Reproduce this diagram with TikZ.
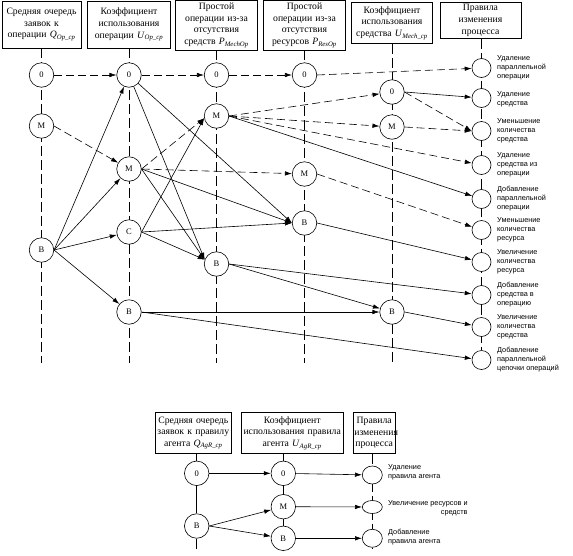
\documentclass[tikz,border=0pt]{standalone}
\usepackage{fontspec}
\setmainfont{Liberation Serif}
\newfontfamily\lblfont{Liberation Sans}
\usetikzlibrary{arrows.meta,shapes.geometric}
\pgfdeclarelayer{bg}
\pgfsetlayers{bg,main}
\newcommand{\myvar}[2]{\textit{#1}\textsubscript{\textit{#2}}}
\begin{document}
\begin{tikzpicture}[x=1pt,y=-1pt,
  st/.style={circle,draw,line width=0.6pt,fill=white,minimum size=24.5pt,inner sep=0pt,font=\fontsize{8.5}{8.5}\selectfont},
  rc/.style={circle,draw,line width=0.6pt,fill=white,minimum size=19pt,inner sep=0pt},
  re/.style={ellipse,draw,line width=0.6pt,fill=white,inner sep=0pt},
  hdr/.style={draw,line width=0.8pt,fill=white,align=center,inner xsep=1pt,inner ysep=0pt,font=\fontsize{9.7}{11.7}\selectfont},
  lbl/.style={anchor=west,align=left,inner sep=0pt,font=\lblfont\fontsize{7.3}{9}\selectfont},
  colline/.style={line width=0.6pt,dash pattern=on 10pt off 4pt},
  solidcol/.style={line width=0.6pt},
  ed/.style={line width=0.6pt,-{Latex[length=7pt,width=4.5pt]}},
  ded/.style={ed,dash pattern=on 8pt off 4pt},
]
\useasboundingbox (0,0) rectangle (573,555);

% ---------- top header boxes
\node[hdr,text width=77pt,minimum height=47pt] (h1) at (41.5,24.5) {Средняя очередь\\заявок к\\операции \myvar{Q}{Op\_cp}};
\node[hdr,text width=81pt,minimum height=47pt] (h2) at (129,24.5) {Коэффициент\\использования\\операции \myvar{U}{Op\_cp}};
\node[hdr,text width=80pt,minimum height=49.5pt] (h3) at (216.5,25.2) {Простой\\операции из-за\\отсутствия\\средств \myvar{P}{MechOp}};
\node[hdr,text width=80pt,minimum height=49.5pt] (h4) at (304.5,25.2) {Простой\\операции из-за\\отсутствия\\ресурсов \myvar{P}{ResOp}};
\node[hdr,text width=79pt,minimum height=41pt] (h5) at (392,23) {Коэффициент\\использования\\средства \myvar{U}{Mech\_cp}};
\node[hdr,text width=79pt,minimum height=36pt] (h6) at (480.5,20.5) {Правила\\изменения\\процесса};

\coordinate (bot) at (0,363);

% ---------- state nodes
\node[st] (a0) at (41.5,75) {0};
\node[st] (aM) at (41.5,126) {М};
\node[st] (aB) at (41.5,250) {В};
\node[st] (b0) at (129,75) {0};
\node[st] (bM) at (129,169) {М};
\node[st] (bC) at (129,232) {С};
\node[st] (bB) at (129,312) {В};
\node[st] (c0) at (216.5,75) {0};
\node[st] (cM) at (216.5,116) {М};
\node[st] (cB) at (216.5,264) {В};
\node[st] (d0) at (304.5,75) {0};
\node[st] (dM) at (304.5,174) {М};
\node[st] (dB) at (304.5,223) {В};
\node[st] (e0) at (392,92) {0};
\node[st] (eM) at (392,127) {М};
\node[st] (eB) at (392,312) {В};

% ---------- rule circles
\foreach \n/\y in {1/68,2/98,3/131,4/165,5/199,6/230,7/262,8/295,9/327,10/360}
  \node[rc] (r\n) at (481.5,\y) {};

\node[lbl] (l1) at (497,68) {Удаление\\параллельной\\операции};
\node[lbl] (l2) at (497,99.5) {Удаление\\средства};
\node[lbl] (l3) at (497,131) {Уменьшение\\количества\\средства};
\node[lbl] (l4) at (497,165) {Удаление\\средства из\\операции};
\node[lbl] (l5) at (497,199) {Добавление\\параллельной\\операции};
\node[lbl] (l6) at (497,230) {Уменьшение\\количества\\ресурса};
\node[lbl] (l7) at (497,262) {Увеличение\\количества\\ресурса};
\node[lbl] (l8) at (497,295) {Добавление\\средства в\\операцию};
\node[lbl] (l9) at (497,327) {Увеличение\\количества\\средства};
\node[lbl] (l10) at (497,360) {Добавление\\параллельной\\цепочки операций};

% ---------- column lines
\begin{pgfonlayer}{bg}
\foreach \h in {h1,h2,h3,h4,h5}
  \draw[colline] (\h.south) -- (\h.south |- bot);
\draw[colline] (h6.south -| r1) -- (r10);
\end{pgfonlayer}

% ---------- connectors
\draw[ded] (a0.east) -- (b0);
\draw[ded] (b0.east) -- (c0);
\draw[ded] (c0.east) -- (d0);
\draw[ded] (d0.east) -- (r1);
\draw[ded] (aM.east) -- (bM);
\draw[ded] (bM.east) -- (cM.190);
\draw[ded] (bM.east) -- (dM);
\draw[ded] (cM.east) -- (e0);
\draw[ded] (cM.east) -- (eM);
\draw[ded] (cM.east) -- (r4);
\draw[ed]  (cM.east) -- (r5);
\draw[ded] (dM.east) -- (r6);
\draw[ed]  (e0.east) -- (r2);
\draw[ded] (e0.east) -- (r3.west);
\draw[ded] (eM.east) -- (r3.west);
\draw[ed] (aB.east) -- (b0);
\draw[ed] (aB.east) -- (bM);
\draw[ed] (aB.east) -- (bC);
\draw[ed] (aB.east) -- (bB);
\draw[ed] (b0) -- (cB.160);
\draw[ed] (b0) -- (dB.west);
\draw[ed] (bM.east) -- (cB.160);
\draw[ed] (bM.east) -- (dB.west);
\draw[ed] (bC.east) -- (cM.190);
\draw[ed] (bC.east) -- (dB.west);
\draw[ed] (bC.east) -- (cB.160);
\draw[ed] (dB.east) -- (r7);
\draw[ed] (cB.east) -- (r8);
\draw[ed] (cB.east) -- (eB);
\draw[ed] (bB.east) -- (eB);
\draw[ed] (bB.east) -- (r10);
\draw[ed] (eB.east) -- (r9);

% ---------- bottom diagram
\node[hdr,text width=74.7pt,minimum height=40.6pt] (hA) at (193.3,433) {Средняя очередь\\заявок к правилу\\агента \myvar{Q}{AgR\_cp}};
\node[hdr,text width=100.3pt,minimum height=40.6pt] (hB) at (292.2,433) {Коэффициент\\использования правила\\агента \myvar{U}{AgR\_cp}};
\node[hdr,text width=39.7pt,minimum height=40.6pt] (hC) at (374.2,433) {Правила\\изменения\\процесса};

\node[st] (A0) at (196.7,473.3) {0};
\node[st] (AB) at (196.7,526) {В};
\node[st] (B0) at (283.3,473.3) {0};
\node[st] (BM) at (283.3,506.7) {М};
\node[st] (BB) at (283.3,538.3) {В};
\node[re,minimum width=20pt,minimum height=18pt] (C1) at (372.3,475) {};
\node[re,minimum width=20pt,minimum height=13pt] (C2) at (372.3,507) {};
\node[re,minimum width=20pt,minimum height=18pt] (C3) at (372.3,538.3) {};
\coordinate (bbot) at (0,549);

\node[lbl] (lA) at (388,472.5) {Удаление\\правила агента};
\node[lbl,align=right] (lB) at (388,508) {Увеличение ресурсов и\\средств};
\node[lbl] (lC) at (388,537) {Добавление\\правила агента};

\begin{pgfonlayer}{bg}
\draw[solidcol] (hA.south -| A0) -- (AB);
\draw[colline] (AB) -- (AB |- bbot);
\draw[solidcol] (hB.south -| B0) -- (BB);
\draw[colline] (hC.south -| C1) -- (C3);
\draw[colline] (C3) -- (C3 |- bbot);
\end{pgfonlayer}

\draw[ed] (A0) -- (B0);
\draw[ed] (B0) -- (C1);
\draw[ed] (AB.east) -- (BM);
\draw[ed] (AB.east) -- (BB);
\draw[ed] (BM) -- (C2);
\draw[ed] (BB) -- (C3);
\end{tikzpicture}
\end{document}
